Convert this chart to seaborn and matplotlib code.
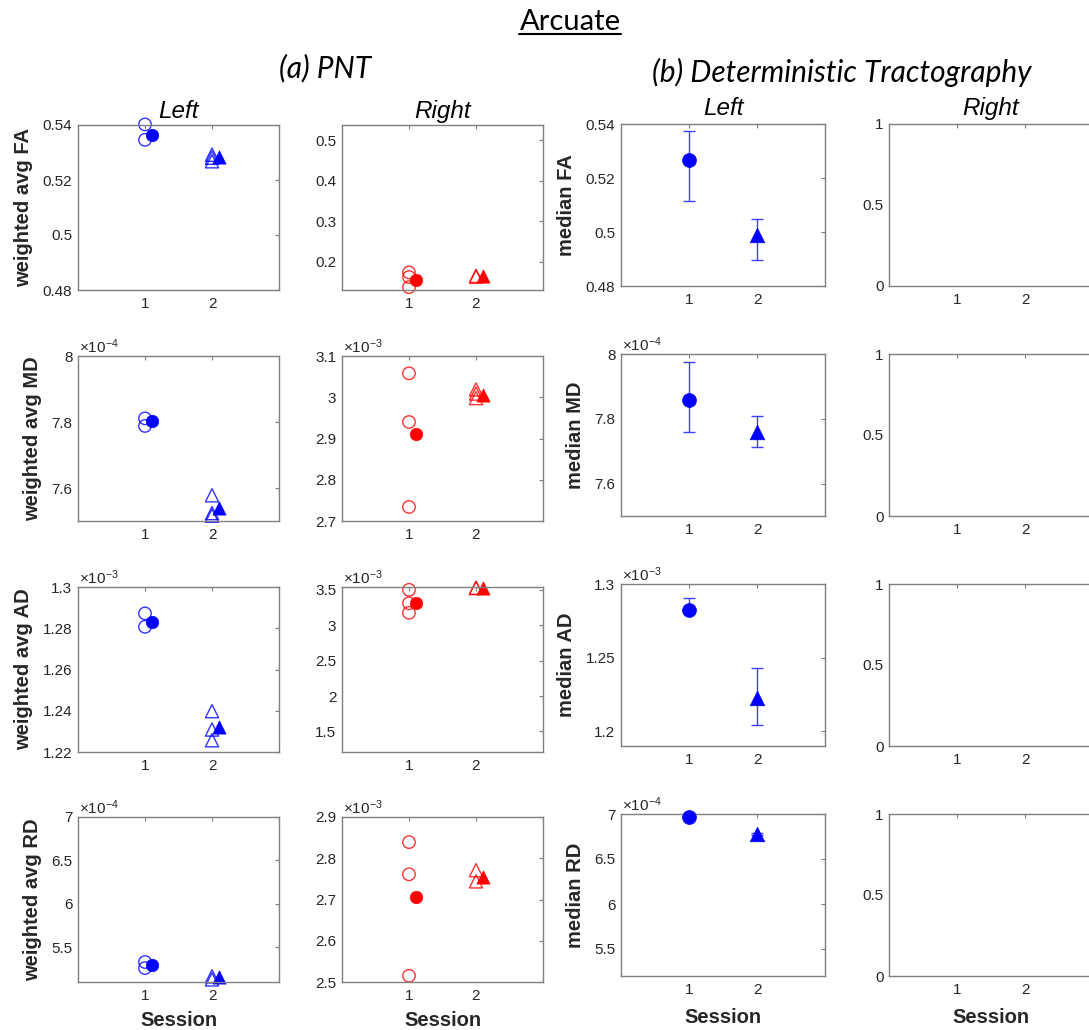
import matplotlib
matplotlib.use("Agg")
import matplotlib.pyplot as plt
from matplotlib.lines import Line2D
from matplotlib.ticker import FuncFormatter
import seaborn as sns
import numpy as np

# ---------------- values ----------------
sessions = [1, 2]
metrics = ["FA", "MD", "AD", "RD"]

# (a) PNT, left: open markers = single runs, filled = mean
pnt_left_s1 = [[0.5402, 0.5346], [7.811e-4, 7.788e-4], [1.2872e-3, 1.2807e-3], [5.33e-4, 5.26e-4]]
pnt_left_s2 = [[0.5292, 0.5281, 0.5268], [7.578e-4, 7.524e-4, 7.516e-4],
               [1.2398e-3, 1.2309e-3, 1.2257e-3], [5.165e-4, 5.13e-4]]
pnt_left_mean = [[0.5365, 0.5285], [7.804e-4, 7.538e-4], [1.2830e-3, 1.2322e-3], [5.30e-4, 5.16e-4]]

# (a) PNT, right
pnt_right_s1 = [[0.1735, 0.162, 0.137], [3.058e-3, 2.940e-3, 2.734e-3],
                [3.50e-3, 3.31e-3, 3.176e-3], [2.839e-3, 2.761e-3, 2.515e-3]]
pnt_right_s2 = [[0.165, 0.163], [3.019e-3, 3.009e-3, 2.998e-3], [3.53e-3, 3.525e-3], [2.771e-3, 2.744e-3]]
pnt_right_mean = [[0.1537, 0.165], [2.910e-3, 3.005e-3], [3.32e-3, 3.52e-3], [2.705e-3, 2.754e-3]]

# (b) deterministic tractography, left: median with error range
dt_left_med = [[0.5265, 0.4990], [7.857e-4, 7.758e-4], [1.2824e-3, 1.2226e-3], [6.963e-4, 6.78e-4]]
dt_left_lo = [[0.5115, 0.4898], [7.758e-4, 7.713e-4], [1.2800e-3, 1.2045e-3], [6.955e-4, 6.77e-4]]
dt_left_hi = [[0.5375, 0.5048], [7.974e-4, 7.809e-4], [1.2907e-3, 1.2433e-3], [6.970e-4, 6.79e-4]]

# axis settings per row
pnt_left_ylim = [(0.48, 0.54), (7.5e-4, 8.0e-4), (1.22e-3, 1.30e-3), (5.1e-4, 7.0e-4)]
pnt_left_yticks = [[0.48, 0.50, 0.52, 0.54], [7.6e-4, 7.8e-4, 8.0e-4],
                   [1.22e-3, 1.24e-3, 1.26e-3, 1.28e-3, 1.30e-3], [5.5e-4, 6.0e-4, 6.5e-4, 7.0e-4]]
pnt_left_exp = [0, -4, -3, -4]

pnt_right_ylim = [(0.13, 0.538), (2.7e-3, 3.1e-3), (1.21e-3, 3.54e-3), (2.5e-3, 2.9e-3)]
pnt_right_yticks = [[0.2, 0.3, 0.4, 0.5], [2.7e-3, 2.8e-3, 2.9e-3, 3.0e-3, 3.1e-3],
                    [1.5e-3, 2.0e-3, 2.5e-3, 3.0e-3, 3.5e-3], [2.5e-3, 2.6e-3, 2.7e-3, 2.8e-3, 2.9e-3]]
pnt_right_exp = [0, -3, -3, -3]

dt_left_ylim = [(0.48, 0.54), (7.5e-4, 8.0e-4), (1.19e-3, 1.30e-3), (5.2e-4, 7.0e-4)]
dt_left_yticks = [[0.48, 0.50, 0.52, 0.54], [7.6e-4, 7.8e-4, 8.0e-4],
                  [1.20e-3, 1.25e-3, 1.30e-3], [5.5e-4, 6.0e-4, 6.5e-4, 7.0e-4]]
dt_left_exp = [0, -4, -3, -4]

dt_right_ylim = (0, 1)
dt_right_yticks = [0, 0.5, 1]

# ---------------- style ----------------
sns.set_style("white")
plt.rcParams["font.family"] = ["Liberation Sans", "DejaVu Sans"]
plt.rcParams["mathtext.fontset"] = "custom"
plt.rcParams["mathtext.rm"] = "Liberation Sans"
plt.rcParams["mathtext.it"] = "Liberation Sans:italic"

FRAME = "#7f7f7f"
TEXT = "#262626"
BLUE = (0, 0, 1)
RED = (1, 0, 0)

W, H = 1089, 1030
fig = plt.figure(figsize=(W / 100, H / 100), dpi=100)


def add_ax(left, top, width, height):
    return fig.add_axes([left / W, 1 - (top + height) / H, width / W, height / H])


def style_axes(ax, ylim, yticks, exp):
    ax.set_xlim(0, 3)
    ax.set_xticks(sessions)
    ax.set_ylim(*ylim)
    ax.set_yticks(yticks)
    scale = 10.0 ** exp
    ax.yaxis.set_major_formatter(FuncFormatter(lambda v, pos: f"{v / scale:g}"))
    ax.tick_params(direction="in", length=3, width=0.8, color=FRAME, labelcolor=TEXT,
                   labelsize=11, top=True, right=True, pad=4)
    ax.tick_params(axis="x", pad=5)
    for sp in ax.spines.values():
        sp.set_visible(True)
        sp.set_color(FRAME)
        sp.set_linewidth(1)
    ax.set_xlabel("")
    ax.set_ylabel("")
    if exp != 0:
        ax.text(0.005, 1.0, r"$\times10^{%d}$" % exp, transform=ax.transAxes,
                ha="left", va="bottom", fontsize=11, color=TEXT)


def pnt_panel(ax, s1, s2, mean, color):
    sns.scatterplot(x=[1] * len(s1), y=s1, ax=ax, marker="o", s=80, facecolors="none",
                    edgecolor=color, linewidth=1, alpha=0.8, legend=False, clip_on=False)
    sns.scatterplot(x=[2] * len(s2), y=s2, ax=ax, marker="^", s=90, facecolors="none",
                    edgecolor=color, linewidth=1, alpha=0.8, legend=False, clip_on=False)
    sns.scatterplot(x=[1.1], y=[mean[0]], ax=ax, marker="o", s=80, color=color,
                    edgecolor=color, linewidth=0.5, legend=False, clip_on=False)
    sns.scatterplot(x=[2.1], y=[mean[1]], ax=ax, marker="^", s=90, color=color,
                    edgecolor=color, linewidth=0.5, legend=False, clip_on=False)


def dt_panel(ax, med, lo, hi, color):
    med = np.array(med)
    yerr = [med - np.array(lo), np.array(hi) - med]
    ax.errorbar(sessions, med, yerr=yerr, fmt="none", ecolor=(0.25, 0.25, 1), elinewidth=1,
                capsize=4, capthick=1)
    sns.scatterplot(x=[1], y=[med[0]], ax=ax, marker="o", s=100, color=color,
                    edgecolor=color, linewidth=0.5, legend=False, zorder=3, clip_on=False)
    sns.scatterplot(x=[2], y=[med[1]], ax=ax, marker="^", s=110, color=color,
                    edgecolor=color, linewidth=0.5, legend=False, zorder=3, clip_on=False)


pnt_x = [78, 342]
pnt_w, pnt_h = 201, 165
pnt_tops = [125, 356, 587, 817]
dt_x = [621, 889]
dt_w, dt_h = 204, 162
dt_tops = [124, 354, 584, 814]

label_kw = dict(fontsize=14.5, fontweight="bold", color=TEXT)

for i, m in enumerate(metrics):
    ax = add_ax(pnt_x[0], pnt_tops[i], pnt_w, pnt_h)
    pnt_panel(ax, pnt_left_s1[i], pnt_left_s2[i], pnt_left_mean[i], BLUE)
    style_axes(ax, pnt_left_ylim[i], pnt_left_yticks[i], pnt_left_exp[i])
    ax.set_ylabel(f"weighted avg {m}", labelpad=7, **label_kw)
    if i == 0:
        ax.set_title("Left", fontsize=17.5, style="italic", color="black", pad=5)
    if i == 3:
        ax.set_xlabel("Session", labelpad=6, **label_kw)

    ax = add_ax(pnt_x[1], pnt_tops[i], pnt_w, pnt_h)
    pnt_panel(ax, pnt_right_s1[i], pnt_right_s2[i], pnt_right_mean[i], RED)
    style_axes(ax, pnt_right_ylim[i], pnt_right_yticks[i], pnt_right_exp[i])
    if i == 0:
        ax.set_title("Right", fontsize=17.5, style="italic", color="black", pad=5)
    if i == 3:
        ax.set_xlabel("Session", labelpad=6, **label_kw)

    ax = add_ax(dt_x[0], dt_tops[i], dt_w, dt_h)
    dt_panel(ax, dt_left_med[i], dt_left_lo[i], dt_left_hi[i], BLUE)
    style_axes(ax, dt_left_ylim[i], dt_left_yticks[i], dt_left_exp[i])
    ax.set_ylabel(f"median {m}", labelpad=7, **label_kw)
    if i == 0:
        ax.set_title("Left", fontsize=17.5, style="italic", color="black", pad=6.5)
    if i == 3:
        ax.set_xlabel("Session", labelpad=8, **label_kw)

    ax = add_ax(dt_x[1], dt_tops[i], dt_w, dt_h)
    style_axes(ax, dt_right_ylim, dt_right_yticks, 0)
    if i == 0:
        ax.set_title("Right", fontsize=17.5, style="italic", color="black", pad=6.5)
    if i == 3:
        ax.set_xlabel("Session", labelpad=8, **label_kw)

fig.text(325 / W, 1 - 77 / H, "(a) PNT", ha="center", va="baseline",
         family="Lato", style="italic", fontsize=21.5, color="black")
fig.text(842 / W, 1 - 82 / H, "(b) Deterministic Tractography", ha="center", va="baseline",
         family="Lato", style="italic", fontsize=21.5, color="black")
title = fig.text(570 / W, 1 - 30 / H, "Arcuate", ha="center", va="baseline",
                 family="Lato", fontsize=21, color="black")

fig.canvas.draw()
bb = title.get_window_extent(fig.canvas.get_renderer())
fig.add_artist(Line2D([bb.x0 / W, bb.x1 / W], [1 - 34 / H, 1 - 34 / H],
                      color="black", linewidth=1.5, transform=fig.transFigure))

fig.savefig("out.png", dpi=100)
